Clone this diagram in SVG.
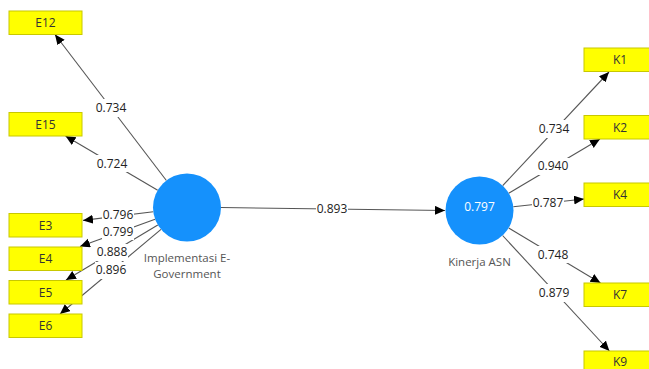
<svg xmlns="http://www.w3.org/2000/svg" width="649" height="369" viewBox="0 0 649 369">
  <style>
    text { font-family: "Open Sans", "Noto Sans", "Liberation Sans", sans-serif; font-size: 12px; }
    .ind rect { fill: #ffff00; stroke: #c8c800; stroke-width: 1; }
    .ind text { fill: #333; text-anchor: middle; }
    .lv circle { fill: #1591fc; }
    .lv .cap { fill: #555; text-anchor: middle; font-size: 11.5px; }
    .lv .val { fill: #ffffff; text-anchor: middle; }
    .edge line { stroke: #555; stroke-width: 1.1; marker-end: url(#arrow); }
    .lbl rect { fill: #ffffff; }
    .lbl text { fill: #222; text-anchor: middle; }
  </style>
  <defs>
    <marker id="arrow" markerUnits="userSpaceOnUse" markerWidth="11" markerHeight="10" refX="10" refY="4.5" orient="auto">
      <path d="M0,0 L10,4.5 L0,9 z" fill="#000"/>
    </marker>
  </defs>
  <rect width="649" height="369" fill="#ffffff"/>

  <!-- connectors -->
  <g id="connectors" class="edge">
    <line x1="166.4" y1="180.5" x2="55" y2="34.5"/>
    <line x1="157.7" y1="190.3" x2="65.5" y2="136"/>
    <line x1="153.3" y1="211.7" x2="83" y2="220.4"/>
    <line x1="155.1" y1="219.2" x2="80" y2="246.5"/>
    <line x1="157.8" y1="225" x2="66" y2="280"/>
    <line x1="161" y1="229.4" x2="60" y2="314"/>
    <line x1="221" y1="207.5" x2="445" y2="210.5"/>
    <line x1="502.7" y1="185.7" x2="609" y2="72"/>
    <line x1="508.7" y1="193.2" x2="600" y2="139"/>
    <line x1="513.3" y1="206.8" x2="584" y2="199"/>
    <line x1="508.7" y1="228" x2="600.5" y2="283"/>
    <line x1="502.6" y1="235.5" x2="609.4" y2="351"/>
  </g>

  <!-- path coefficients / loadings -->
  <g id="labels" class="lbl">
    <rect x="95" y="99" width="32" height="18"/><text x="111" y="112">0.734</text>
    <rect x="96" y="155" width="32" height="17"/><text x="112" y="168">0.724</text>
    <rect x="102" y="207" width="32" height="16"/><text x="118" y="219">0.796</text>
    <rect x="102" y="224" width="32" height="16"/><text x="118" y="236">0.799</text>
    <rect x="96" y="244" width="32" height="17"/><text x="112" y="256">0.888</text>
    <rect x="95" y="262" width="32" height="17"/><text x="111" y="274">0.896</text>
    <rect x="316" y="201" width="32" height="16"/><text x="332" y="213">0.893</text>
    <rect x="538" y="120" width="32" height="18"/><text x="554" y="133">0.734</text>
    <rect x="537" y="158" width="32" height="17"/><text x="553" y="170">0.940</text>
    <rect x="532" y="195" width="32" height="16"/><text x="548" y="207">0.787</text>
    <rect x="537" y="246" width="32" height="17"/><text x="553" y="259">0.748</text>
    <rect x="538" y="284" width="32" height="18"/><text x="554" y="297">0.879</text>
  </g>

  <!-- indicators: Implementasi E-Government -->
  <g id="E12" class="ind"><rect x="9" y="11" width="73" height="23.5"/><text x="45.5" y="27">E12</text></g>
  <g id="E15" class="ind"><rect x="9" y="112.5" width="73" height="23.5"/><text x="45.5" y="128.5">E15</text></g>
  <g id="E3" class="ind"><rect x="9" y="213.5" width="73" height="23.5"/><text x="45.5" y="229.5">E3</text></g>
  <g id="E4" class="ind"><rect x="9" y="247" width="73" height="23.5"/><text x="45.5" y="263">E4</text></g>
  <g id="E5" class="ind"><rect x="9" y="280.5" width="73" height="23.5"/><text x="45.5" y="296.5">E5</text></g>
  <g id="E6" class="ind"><rect x="9" y="314" width="73" height="23.5"/><text x="45.5" y="330">E6</text></g>

  <!-- indicators: Kinerja ASN -->
  <g id="K1" class="ind"><rect x="584" y="48" width="73" height="23.5"/><text x="620" y="64">K1</text></g>
  <g id="K2" class="ind"><rect x="584" y="115.5" width="73" height="23.5"/><text x="620" y="131.5">K2</text></g>
  <g id="K4" class="ind"><rect x="584" y="183" width="73" height="23.5"/><text x="620" y="199">K4</text></g>
  <g id="K7" class="ind"><rect x="584" y="283" width="73" height="23.5"/><text x="620" y="299">K7</text></g>
  <g id="K9" class="ind"><rect x="584" y="351" width="73" height="23.5"/><text x="620" y="366">K9</text></g>

  <!-- latent variables -->
  <g id="egov" class="lv">
    <circle cx="187" cy="207.5" r="34"/>
    <text class="cap" x="187" y="262">Implementasi E-</text>
    <text class="cap" x="187" y="278">Government</text>
  </g>
  <g id="kinerja" class="lv">
    <circle cx="479.5" cy="210.5" r="34"/>
    <text class="val" x="479.5" y="211">0.797</text>
    <text class="cap" x="479.5" y="266">Kinerja ASN</text>
  </g>
</svg>
